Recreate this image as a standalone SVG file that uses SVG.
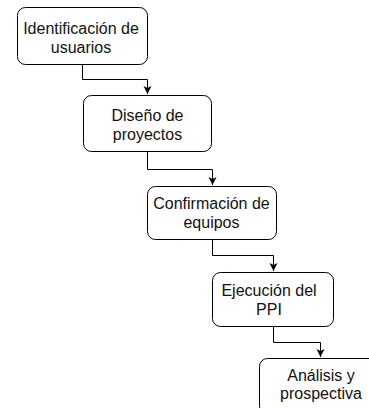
<svg xmlns="http://www.w3.org/2000/svg" width="369" height="408" viewBox="0 0 369 408">
<style>
.box{fill:#fff;stroke:#000;stroke-width:1}
.lbl{font-family:"Liberation Sans",Arial,sans-serif;font-size:16px;fill:#111;text-anchor:middle}
.edge{fill:none;stroke:#000;stroke-width:1}
</style>
<defs>
<marker id="arr" markerWidth="10" markerHeight="10" refX="8" refY="4" orient="auto" markerUnits="userSpaceOnUse">
<path d="M0,0 L8,4 L0,8 L2,4 Z" fill="#000"/>
</marker>
</defs>
<rect width="369" height="408" fill="#fff"/>
<g id="connectors">
<path class="edge" d="M82.5,65 V79.5 H147.5 V94" marker-end="url(#arr)"/>
<path class="edge" d="M147.5,152 V169.5 H212.5 V185" marker-end="url(#arr)"/>
<path class="edge" d="M212.5,240 V255.5 H273.5 V271" marker-end="url(#arr)"/>
<path class="edge" d="M273.5,327 V342.5 H320.5 V357" marker-end="url(#arr)"/>
</g>
<g id="n1">
<rect class="box" x="17.5" y="7.5" width="130" height="57" rx="8"/>
<text class="lbl" x="81" y="34">Identificación de</text>
<text class="lbl" x="81" y="53">usuarios</text>
</g>
<g id="n2">
<rect class="box" x="83.5" y="95.5" width="128" height="56" rx="8"/>
<text class="lbl" x="147.5" y="121">Diseño de</text>
<text class="lbl" x="147.5" y="140">proyectos</text>
</g>
<g id="n3">
<rect class="box" x="147.5" y="186.5" width="129" height="53" rx="8"/>
<text class="lbl" x="211.5" y="209">Confirmación de</text>
<text class="lbl" x="211.5" y="228">equipos</text>
</g>
<g id="n4">
<rect class="box" x="212.5" y="272.5" width="121" height="54" rx="8"/>
<text class="lbl" x="269" y="296">Ejecución del</text>
<text class="lbl" x="269" y="315">PPI</text>
</g>
<g id="n5">
<rect class="box" x="259.5" y="358.5" width="122" height="56" rx="8"/>
<text class="lbl" x="321" y="381">Análisis y</text>
<text class="lbl" x="321" y="399">prospectiva</text>
</g>
</svg>
